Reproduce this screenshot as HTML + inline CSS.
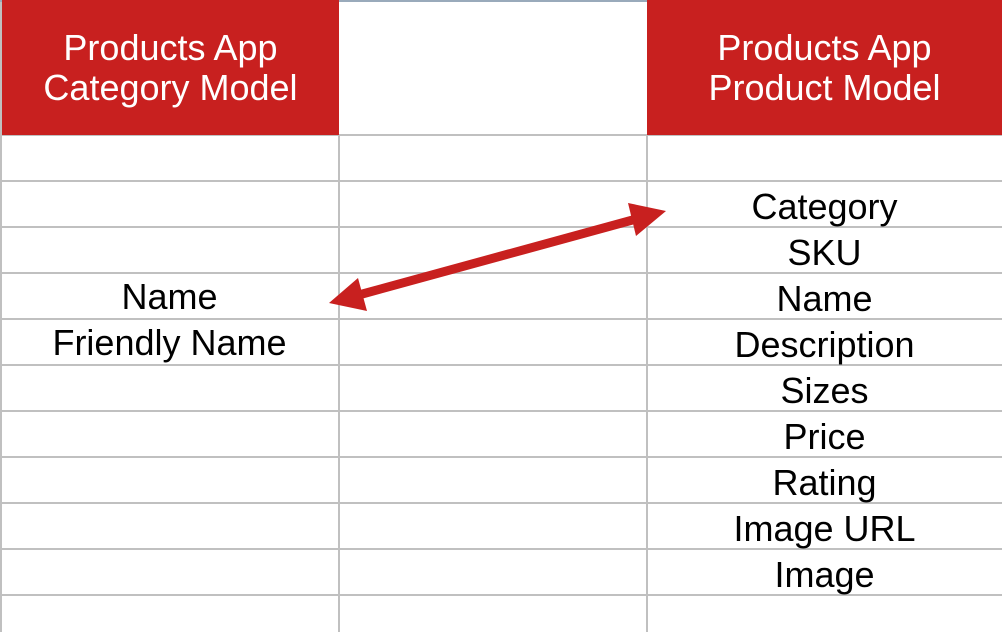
<!DOCTYPE html>
<html><head><style>
body{margin:0;width:1002px;height:632px;overflow:hidden;background:#fff;font-family:"Liberation Sans",sans-serif;position:relative}
.h{position:absolute;top:0;height:135px;background:#c8201f;color:#fff;font-size:36px;line-height:40px;text-align:center;display:flex;align-items:center;justify-content:center}
.t{position:absolute;font-size:36px;line-height:46px;text-align:center;color:#000}
</style></head><body>
<svg width="1002" height="632" style="position:absolute;left:0;top:0">
<g stroke="#c0c0c0" stroke-width="2">
<line x1="1" y1="0" x2="1" y2="632"/>
<line x1="339" y1="135" x2="339" y2="632"/>
<line x1="647" y1="135" x2="647" y2="632"/>
<line x1="0" y1="1" x2="1002" y2="1" stroke="#9ab"/>
<line x1="0" y1="135" x2="1002" y2="135"/>
<line x1="0" y1="181" x2="1002" y2="181"/>
<line x1="0" y1="227" x2="1002" y2="227"/>
<line x1="0" y1="273" x2="1002" y2="273"/>
<line x1="0" y1="319" x2="1002" y2="319"/>
<line x1="0" y1="365" x2="1002" y2="365"/>
<line x1="0" y1="411" x2="1002" y2="411"/>
<line x1="0" y1="457" x2="1002" y2="457"/>
<line x1="0" y1="503" x2="1002" y2="503"/>
<line x1="0" y1="549" x2="1002" y2="549"/>
<line x1="0" y1="595" x2="1002" y2="595"/>
</g>
</svg>
<div class="h" style="left:2px;width:337px">Products App<br>Category Model</div>
<div class="h" style="left:647px;width:355px">Products App<br>Product Model</div>
<div class="t" style="left:0;width:339px;top:274px">Name</div>
<div class="t" style="left:0;width:339px;top:320px">Friendly Name</div>
<div class="t" style="left:647px;width:355px;top:184px">Category<br>SKU<br>Name<br>Description<br>Sizes<br>Price<br>Rating<br>Image URL<br>Image</div>
<svg width="1002" height="632" style="position:absolute;left:0;top:0">
<line x1="355" y1="296" x2="640" y2="218" stroke="#c8201f" stroke-width="9"/>
<polygon points="329,303 358,278 367,311" fill="#c8201f"/>
<polygon points="666,211 628,203 636,236" fill="#c8201f"/>
</svg>
</body></html>
